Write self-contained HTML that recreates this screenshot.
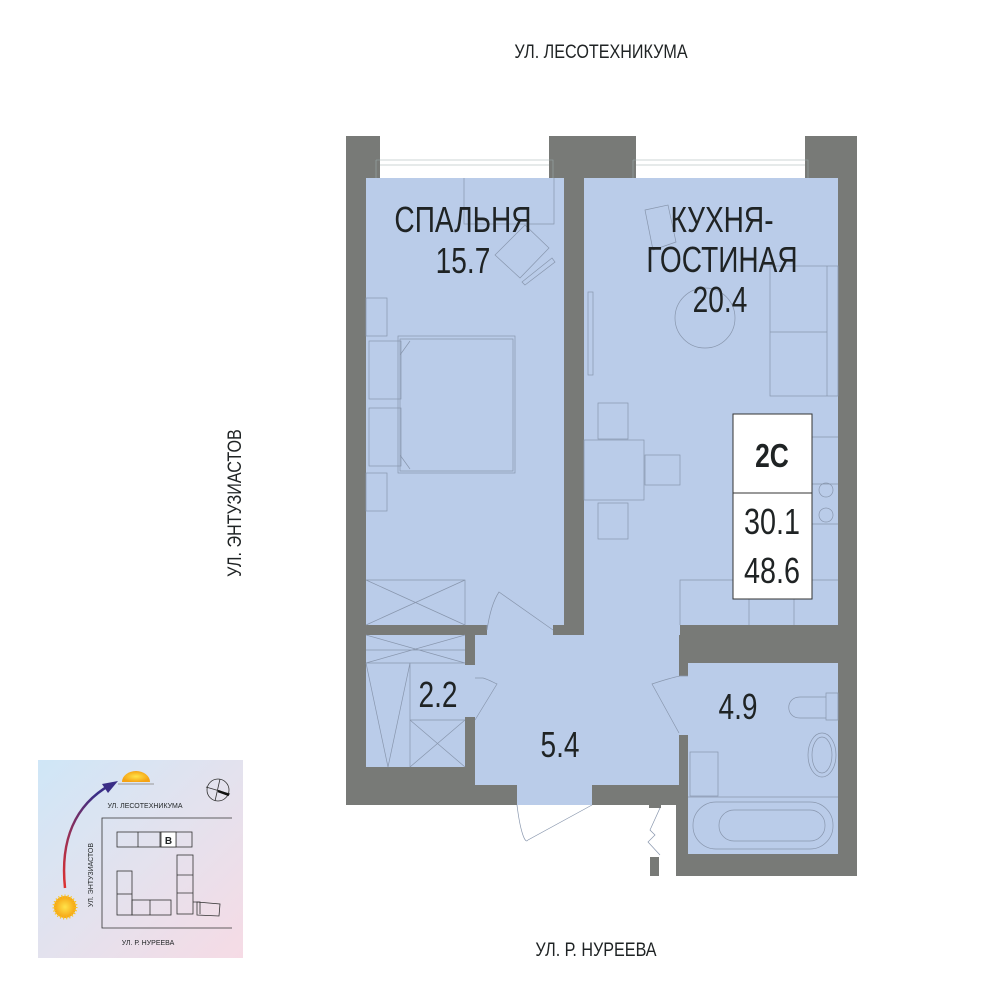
<!DOCTYPE html>
<html><head><meta charset="utf-8"><style>
body{margin:0;background:#fff;width:1000px;height:1000px;overflow:hidden}
svg{display:block}
text{font-family:"Liberation Sans",sans-serif;fill:#1f2324}
</style></head><body>
<svg width="1000" height="1000" viewBox="0 0 1000 1000" xmlns="http://www.w3.org/2000/svg">
<defs>
<linearGradient id="g" x1="0" y1="0" x2="1" y2="1">
<stop offset="0" stop-color="#cfe6f7"/><stop offset="0.5" stop-color="#e3e2ee"/><stop offset="1" stop-color="#f6dbe5"/>
</linearGradient>
<radialGradient id="sun"><stop offset="0" stop-color="#ffe34a"/><stop offset="1" stop-color="#f5a313"/></radialGradient>
<linearGradient id="arr" x1="0" y1="1" x2="0.5" y2="0"><stop offset="0" stop-color="#e0312f"/><stop offset="1" stop-color="#3a2e86"/></linearGradient>
</defs>
<g font-size="19" text-anchor="middle">
<text x="601" y="58" transform="translate(601 0) scale(0.85 1) translate(-601 0)">УЛ. ЛЕСОТЕХНИКУМА</text>
<text x="596" y="956" transform="translate(596 0) scale(0.85 1) translate(-596 0)">УЛ. Р. НУРЕЕВА</text>
<text transform="translate(241 503) rotate(-90) scale(0.85 1)">УЛ. ЭНТУЗИАСТОВ</text>
</g>
<!-- walls -->
<rect x="346" y="136" width="511" height="669" fill="#787a77"/>
<rect x="676" y="640" width="181" height="236" fill="#787a77"/>
<!-- windows -->
<rect x="380" y="136" width="169" height="42" fill="#fff"/>
<rect x="636" y="136" width="169" height="42" fill="#fff"/>
<g stroke="#9aa" stroke-width="0.6" fill="none">
<path d="M376 160H553V178M376 160V178M380 165H549M633 160H808V178M633 160V178M636 165H805"/>
</g>
<!-- floors -->
<g fill="#bacce9">
<rect x="366" y="178" width="198" height="447"/>
<rect x="584" y="178" width="254" height="447"/>
<rect x="584" y="625" width="96" height="10"/>
<rect x="487" y="625" width="66" height="10"/>
<rect x="475" y="635" width="204" height="150"/>
<rect x="517" y="785" width="75" height="20"/>
<rect x="366" y="635" width="99" height="132"/>
<rect x="465" y="665" width="10" height="52"/>
<rect x="688" y="663" width="150" height="191"/>
<rect x="679" y="676" width="9" height="59"/>
</g>
<!-- furniture lines -->
<g stroke="#8896ad" stroke-width="0.7" fill="none">
<path d="M464 178V224H554V178"/>
<path d="M495 255L525 225L549 248L520 278Z M525 285L555 262L552 258L522 282Z"/>
<rect x="366" y="298" width="21" height="38"/><rect x="366" y="473" width="21" height="38"/>
<rect x="369" y="341" width="32" height="58"/><rect x="369" y="408" width="32" height="58"/>
<rect x="398" y="336" width="117" height="137"/><path d="M400 339H513V471H400Z M400 355L410 341 M400 455L410 469"/>
<path d="M366 580H465V625M366 580L465 625M465 580L366 625"/>
<path d="M366 650H465M366 635L465 663M465 635L366 663M366 663H465M410 663V767M366 663L388 767M410 663L388 767M410 720H465M410 720L465 767M465 720L410 767"/>
<path d="M645 210L668 205L676 242L653 250Z"/>
<circle cx="705" cy="318" r="30"/>
<rect x="588" y="292" width="5" height="83"/>
<rect x="770" y="266" width="68" height="130"/><path d="M827 266V396M770 332H827"/>
<rect x="598" y="403" width="30" height="36"/><rect x="584" y="440" width="60" height="60"/><rect x="645" y="455" width="35" height="30"/><rect x="598" y="503" width="30" height="36"/>
<path d="M812 437H838M812 484H838M812 524H838M680 625V580H733M812 580H838M749 599V625M794 599V625"/>
<circle cx="826" cy="490" r="7"/><circle cx="826" cy="515" r="7"/>
<path d="M487 625V630C490 610 495 598 499 592L553 630"/>
<path d="M475 678H483C490 680 494 683 497 684L475 720"/>
<path d="M688 676H680C670 678 658 682 652 684L679 733"/>
<path d="M517 805C520 830 525 845 528 840L592 805"/>
<path d="M652 806L660 808L650 830L655 835L648 842L660 855"/>
<rect x="690" y="752" width="28" height="44"/>
<path d="M688 797H838"/>
<rect x="693" y="802" width="140" height="47" rx="23"/><rect x="719" y="810" width="106" height="31" rx="15"/>
<path d="M826 693H838V720H826Z M826 697H800C785 697 785 718 800 718H826"/>
<ellipse cx="822" cy="755" rx="14" ry="22"/><ellipse cx="822" cy="755" rx="10" ry="18"/>
</g>
<rect x="649" y="804" width="12" height="4" fill="#787a77"/>
<rect x="650" y="857" width="9" height="19" fill="#787a77"/>
<!-- info box -->
<rect x="733" y="414" width="79" height="185" fill="#fff" stroke="#333" stroke-width="1"/>
<line x1="733" y1="493" x2="812" y2="493" stroke="#333"/>
<g text-anchor="middle" font-size="36">
<text x="772" y="467" font-weight="bold" font-size="33" transform="translate(772 0) scale(0.8 1) translate(-772 0)">2С</text>
<text x="772" y="534" transform="translate(772 0) scale(0.8 1) translate(-772 0)">30.1</text>
<text x="772" y="583" transform="translate(772 0) scale(0.8 1) translate(-772 0)">48.6</text>
<text x="463" y="232" transform="translate(463 0) scale(0.78 1) translate(-463 0)">СПАЛЬНЯ</text>
<text x="463" y="273" transform="translate(463 0) scale(0.78 1) translate(-463 0)">15.7</text>
<text x="722" y="232" transform="translate(722 0) scale(0.78 1) translate(-722 0)">КУХНЯ-</text>
<text x="722" y="272" transform="translate(722 0) scale(0.78 1) translate(-722 0)">ГОСТИНАЯ</text>
<text x="720" y="312" transform="translate(720 0) scale(0.78 1) translate(-720 0)">20.4</text>
<text x="438" y="707" transform="translate(438 0) scale(0.78 1) translate(-438 0)">2.2</text>
<text x="560" y="757" transform="translate(560 0) scale(0.78 1) translate(-560 0)">5.4</text>
<text x="738" y="719" transform="translate(738 0) scale(0.78 1) translate(-738 0)">4.9</text>
</g>
<!-- inset -->
<rect x="38" y="760" width="205" height="198" fill="url(#g)"/>
<path d="M65 888C60 840 75 805 110 785" stroke="url(#arr)" stroke-width="2.5" fill="none"/>
<path d="M102 784L118 781L108 793Z" fill="#3a2e86"/>
<circle cx="65" cy="907" r="11" fill="url(#sun)" stroke="#f9c31d" stroke-width="3" stroke-dasharray="1 2"/>
<path d="M122 782A14 11 0 0 1 150 782Z" fill="url(#sun)"/><line x1="118" y1="784" x2="154" y2="784" stroke="#999"/>
<circle cx="218" cy="790" r="11" fill="none" stroke="#333" stroke-width="0.8"/><path d="M206 787L230 794M220 779L215 801" stroke="#333" stroke-width="0.8"/><path d="M218 791L229 795" stroke="#111" stroke-width="2.5"/>
<g font-size="7" text-anchor="middle" fill="#222"><text x="145" y="808">УЛ. ЛЕСОТЕХНИКУМА</text><text x="148" y="945">УЛ. Р. НУРЕЕВА</text><text transform="translate(93 875) rotate(-90)">УЛ. ЭНТУЗИАСТОВ</text></g>
<g stroke="#333" stroke-width="0.8" fill="none">
<path d="M232 818H102V928H232"/>
<rect x="117" y="832" width="75" height="15"/><path d="M138 832V847M160 832V847M176 832V847"/>
<rect x="117" y="871" width="15" height="44"/><path d="M117 894H132"/><rect x="132" y="900" width="39" height="15"/><path d="M150 900V915"/>
<rect x="177" y="855" width="16" height="59"/><path d="M177 875H193M177 893H193M193 902H200V914"/><path d="M197 902L220 904L219 916L197 915Z"/>
</g>
<rect x="161" y="832" width="15" height="15" fill="#fff" stroke="#333" stroke-width="0.8"/><text x="168.5" y="844" font-size="10" font-weight="bold" text-anchor="middle">В</text>
</svg>
</body></html>
